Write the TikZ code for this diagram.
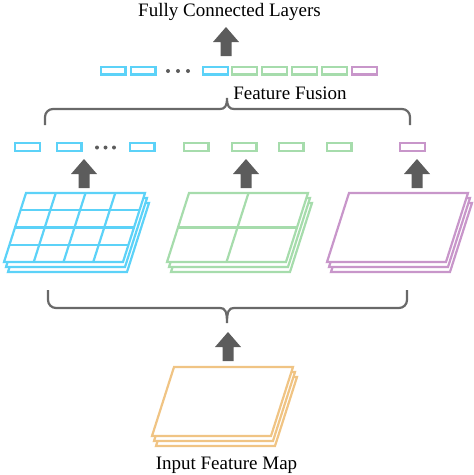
\documentclass[tikz,border=0pt]{standalone}
\usepackage{fontspec}
\setmainfont{Liberation Serif}
\usepackage{tikz}
\usetikzlibrary{positioning, calc}
\definecolor{cyanFg}{RGB}{92, 210, 248}
\definecolor{greenFg}{RGB}{166, 220, 172}
\definecolor{purpleFg}{RGB}{200, 150, 202}
\definecolor{orangeFg}{RGB}{240, 196, 132}
\definecolor{arrowGray}{RGB}{92, 92, 92}
\definecolor{braceGray}{RGB}{105, 105, 105}
\tikzstyle{label} = [font=\fontsize{19}{22}\selectfont, text=black, inner sep=0pt]
\tikzstyle{vec} = [rectangle, line width=2.4pt, fill=white, minimum width=24.6pt, minimum height=7.6pt, inner sep=0pt]
\tikzstyle{cyanstyle} = [vec, draw=cyanFg]
\tikzstyle{greenstyle} = [vec, draw=greenFg]
\tikzstyle{purplestyle} = [vec, draw=purpleFg]
\tikzstyle{bracketline} = [line width=2.2pt, draw=braceGray]
\tikzstyle{gridline} = [line width=2.2pt]
\tikzstyle{dot} = [circle, fill=arrowGray, minimum size=4pt, inner sep=0pt]
\tikzset{
  pics/uparrow/.style={code={
    \fill[arrowGray] (0,0) -- (13,15) -- (5.5,15) -- (5.5,29) -- (-5.5,29) -- (-5.5,15) -- (-13,15) -- cycle;
  }},
  pics/fmap/.style={code={
    \foreach \k in {2,1,0}
      \filldraw[draw=#1, fill=white, line width=2.2pt] (2*\k, 5*\k) -- ++(119,0) -- ++(-22,69) -- ++(-119,0) -- cycle;
  }}
}

\begin{document}
\begin{tikzpicture}[x=1pt, y=-1pt]
\useasboundingbox (0,0) rectangle (474,475);

% titles
\node (fc) [label, anchor=base] at (229.5,16) {Fully Connected Layers};
\node (fusion) [label, anchor=base] at (290,99) {Feature Fusion};
\node (input) [label, anchor=base] at (226.5,469) {Input Feature Map};

% fused vector
\node (t0) [cyanstyle] at (113,70.5) {};
\node (t1) [cyanstyle] at (143,70.5) {};
\node (t2) [cyanstyle] at (215.5,70.5) {};
\node (t3) [greenstyle] at (244.5,70.5) {};
\node (t4) [greenstyle] at (274.5,70.5) {};
\node (t5) [greenstyle] at (304.5,70.5) {};
\node (t6) [greenstyle] at (334.5,70.5) {};
\node (t7) [purplestyle] at (364.5,70.5) {};
\foreach \x in {168,178,188} \node [dot] at (\x,71) {};

% pooled vectors
\node (c0) [cyanstyle] at (27.5,147) {};
\node (c1) [cyanstyle] at (69,147) {};
\node (c2) [cyanstyle] at (142,147) {};
\node (g0) [greenstyle] at (196,147) {};
\node (g1) [greenstyle] at (244,147) {};
\node (g2) [greenstyle] at (291,147) {};
\node (g3) [greenstyle] at (339,147) {};
\node (p0) [purplestyle] at (412.5,147) {};
\foreach \x in {97,105.5,114} \node [dot] at (\x,147.5) {};

% braces
\draw [bracketline] (45,125) [rounded corners=8pt] -- (45,109) -- (150,109) [sharp corners] -- (220,109)
  .. controls (225,109) and (227,106) .. (227,98)
  .. controls (227,106) and (229,109) .. (234,109) [rounded corners=8pt] -- (300,109) -- (410,109) -- (410,125);
\draw [bracketline] (48,290) [rounded corners=8pt] -- (48,308) -- (150,308) [sharp corners] -- (220,308)
  .. controls (225,308) and (227,311) .. (227,323)
  .. controls (227,311) and (229,308) .. (234,308) [rounded corners=8pt] -- (300,308) -- (407,308) -- (407,290);

% block arrows
\pic at (226,27) {uparrow};
\pic at (84,159) {uparrow};
\pic at (246,159) {uparrow};
\pic at (417,159) {uparrow};
\pic at (228,332) {uparrow};

% feature maps
\pic at (26,193) {fmap=cyanFg};
\foreach \f in {0.25,0.5,0.75} {
  \draw [gridline, cyanFg] (26+119*\f,193) -- ++(-22,69);
  \draw [gridline, cyanFg] (26-22*\f,193+69*\f) -- ++(119,0);
}
\pic at (189,193) {fmap=greenFg};
\draw [gridline, greenFg] (189+59.5,193) -- ++(-22,69);
\draw [gridline, greenFg] (189-11,193+34.5) -- ++(119,0);
\pic at (349,193) {fmap=purpleFg};
\pic at (174,367) {fmap=orangeFg};

\end{tikzpicture}
\end{document}
